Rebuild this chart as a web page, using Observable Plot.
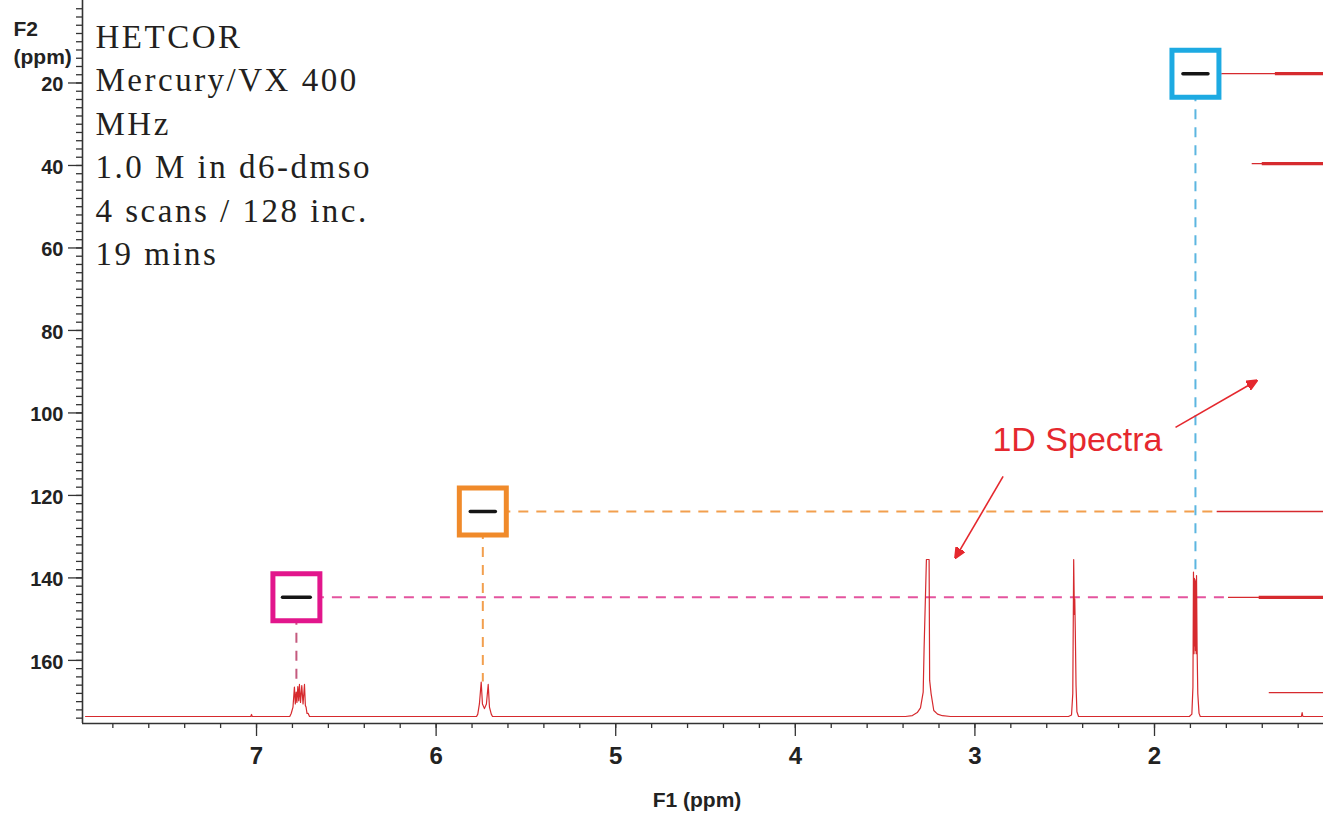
<!DOCTYPE html>
<html><head><meta charset="utf-8">
<script src="https://cdn.jsdelivr.net/npm/d3@7"></script>
<script src="https://cdn.jsdelivr.net/npm/@observablehq/plot@0.6"></script>
<style>
html,body{margin:0;padding:0;background:#fff;}
#chart svg{display:block}
</style></head><body><div id="chart"></div>
<script>
// ---------------- data ----------------
// 1H projection (F1 ppm, relative intensity 0-100)
const h1Ppm = [7.952, 7.032, 7.028, 7.024,
  6.815, 6.807, 6.797, 6.789, 6.784, 6.779, 6.775, 6.770, 6.765, 6.761, 6.755, 6.748, 6.741, 6.733, 6.728, 6.724, 6.719, 6.713, 6.705,
  5.775, 5.768, 5.759, 5.749, 5.742, 5.731, 5.720, 5.710, 5.703, 5.693, 5.686,
  3.387, 3.348, 3.321, 3.303, 3.288, 3.283, 3.270, 3.255, 3.252, 3.244, 3.229, 3.208, 3.181, 3.136,
  2.479, 2.462, 2.455, 2.450, 2.446, 2.444, 2.441, 2.437, 2.432, 2.423,
  1.806, 1.792, 1.786, 1.783, 1.780, 1.778, 1.776, 1.774, 1.772, 1.770, 1.768, 1.766, 1.763, 1.759, 1.752, 1.745,
  1.182, 1.178, 1.174, 1.06];
const h1Int = [0, 0, 1.3, 0,
  0, 1.9, 6, 18.7, 8, 15.5, 9, 19.1, 10, 20.4, 9, 19.7, 8, 20.4, 7, 5.9, 2, 2, 0,
  0, 1.5, 8, 21.9, 8, 5, 8, 20.4, 6, 1.5, 0,
  0, 0.6, 2.5, 5.5, 15.5, 43, 100, 100, 23, 14.6, 3.8, 1.5, 0.5, 0,
  0, 1, 14.6, 100, 65, 75, 55, 20, 3, 0,
  0, 1.5, 18.7, 92, 40, 88, 45, 86, 42, 87, 40, 89.8, 45, 14.6, 2, 0,
  0, 2.5, 0, 0];

// 13C projection (F2 ppm) – F1 position where each spike tip / thick body begins
const carbonShift = [17.75, 39.55, 123.9, 144.7, 167.8];
const carbonTip   = [1.625, 1.456, 1.651, 1.588, 1.361];
const carbonBody  = [1.327, 1.400, null, 1.417, null];

// HETCOR cross peaks
const crossH     = [6.778, 5.740, 1.772];   // 1H (F1 ppm)
const crossC     = [144.7, 123.9, 17.75];   // 13C (F2 ppm)
const crossTop   = [19, 22, 92];            // 1H peak intensity reached by guide
const crossWidth = [0.155, 0.14, 0.14];     // contour extent in F1

// ticks
const xMajor = [7, 6, 5, 4, 3, 2];
const xMinor = d3.range(12, 79, 2).map(v => v / 10);
const yMajor = [20, 40, 60, 80, 100, 120, 140, 160];
const yMinor = d3.range(2, 176, 2);

const infoLines = ["HETCOR", "Mercury/VX 400", "MHz", "1.0 M in d6-dmso", "4 scans / 128 inc.", "19 mins"];
const annotationLabel = "1D Spectra";

// ---------------- layout / style ----------------
const W = 1323, H = 813;
const xDomain = [7.969, 1.059];
const yDomain = [175.3, 0];
const base = 173.6, kInt = 0.3806;       // 1H intensity -> F2 axis units
const RED = "#d62a2e", ANN = "#e5282e", AX = "#333", TXT = "#222";
const boxColors = ["#e2168c", "#f08a2a", "#1daae2"];
const hColors   = ["#e4549e", "#f29f4e", "#5cb6e0"];
const vColors   = ["#c45a7e", "#f29f4e", "#5cb6e0"];

const spectrum = h1Ppm.map((p, i) => ({ppm: p, f2: base - h1Int[i] * kInt}));
const carbon = carbonShift.map((c, i) => ({c, tip: carbonTip[i], body: carbonBody[i]}));
const cross = crossH.map((h, i) => {
  const ci = d3.minIndex(carbonShift, s => Math.abs(s - crossC[i]));
  return {h, c: crossC[i], top: base - crossTop[i] * kInt, w: crossWidth[i], tip: carbonTip[ci],
          box: boxColors[i], hc: hColors[i], vc: vColors[i]};
});
const arrows = [
  {x1: 1.883, y1: 103.5, x2: 1.432, y2: 92.2},
  {x1: 2.843, y1: 115.4, x2: 3.108, y2: 135.1}
];
const labelPos = [{x: 2.429, y: 106.6, t: annotationLabel}];

function arrowHead(color) {
  const ns = "http://www.w3.org/2000/svg";
  const m = document.createElementNS(ns, "marker");
  m.setAttribute("viewBox", "0 -5 10 10");
  m.setAttribute("refX", "9");
  m.setAttribute("refY", "0");
  m.setAttribute("markerWidth", "11");
  m.setAttribute("markerHeight", "11");
  m.setAttribute("markerUnits", "userSpaceOnUse");
  m.setAttribute("orient", "auto");
  const p = document.createElementNS(ns, "path");
  p.setAttribute("d", "M0,-4.5L10,0L0,4.5Z");
  p.setAttribute("fill", color);
  m.appendChild(p);
  return m;
}

const chart = Plot.plot({
  width: W, height: H,
  marginLeft: 82, marginRight: 0, marginTop: 0, marginBottom: 90,
  x: {domain: xDomain},
  y: {domain: yDomain},
  color: {type: "identity"},
  style: {fontFamily: "Liberation Sans, Arial, sans-serif", background: "#fff", color: AX},
  marks: [
    // guides
    Plot.ruleY(cross, {y: "c", x1: "h", x2: "tip", stroke: "hc", strokeWidth: 2, strokeDasharray: "10,8"}),
    Plot.ruleX(cross, {x: "h", y1: "c", y2: "top", stroke: "vc", strokeWidth: 2, strokeDasharray: "10,8"}),
    // 1H projection
    Plot.line(spectrum, {x: "ppm", y: "f2", stroke: RED, strokeWidth: 1.2}),
    // 13C projection (rotated, coming from the right)
    Plot.ruleY(carbon, {y: "c", x1: "tip", x2: () => xDomain[1], stroke: RED, strokeWidth: 1.3}),
    Plot.ruleY(carbon.filter(d => d.body != null), {y: "c", x1: "body", x2: () => xDomain[1], stroke: RED, strokeWidth: 3.2}),
    // boxes around cross peaks
    Plot.dot(cross, {x: "h", y: "c", symbol: "square", r: 26.5, fill: "white", stroke: "box", strokeWidth: 5}),
    // cross peaks
    Plot.link(cross, {x1: d => d.h + d.w / 2, x2: d => d.h - d.w / 2, y1: "c", y2: "c", stroke: "#151515", strokeWidth: 3.4, strokeLinecap: "round"}),
    // annotation
    Plot.link(arrows, {x1: "x1", y1: "y1", x2: "x2", y2: "y2", stroke: ANN, strokeWidth: 1.6, markerEnd: arrowHead}),
    Plot.text(labelPos, {x: "x", y: "y", text: "t", fill: ANN, fontSize: 34, textAnchor: "middle", lineAnchor: "middle"}),
    // info block
    Plot.text([infoLines.join("\n")], {frameAnchor: "top-left", textAnchor: "start", lineAnchor: "top", dx: 13, dy: 16.2,
      fontSize: 33, lineHeight: 43.5 / 33, fontFamily: "Liberation Serif, serif", fill: "#231f20"}),
    // axes: ticks
    Plot.axisY({ticks: yMinor, tickSize: 6, tickFormat: () => "", label: null, stroke: AX, strokeWidth: 1.3}),
    Plot.axisY({ticks: yMajor, tickSize: 14, tickFormat: () => "", label: null, stroke: AX, strokeWidth: 1.3}),
    Plot.axisX({ticks: xMinor, tickSize: 5, tickFormat: () => "", label: null, stroke: AX, strokeWidth: 1.3}),
    Plot.axisX({ticks: xMajor, tickSize: 13, tickFormat: () => "", label: null, stroke: AX, strokeWidth: 1.3}),
    Plot.ruleX([xDomain[0]], {stroke: AX, strokeWidth: 1.6}),
    Plot.ruleY([yDomain[0]], {stroke: AX, strokeWidth: 1.6}),
    // axes: tick labels
    Plot.text(yMajor, {x: () => xDomain[0], y: d => d, text: d => String(d), dx: -19, dy: 2, textAnchor: "end", lineAnchor: "middle",
      fontSize: 20, fontWeight: "bold", fill: TXT}),
    Plot.text(xMajor, {x: d => d, y: () => yDomain[0], text: d => String(d), dy: 33, textAnchor: "middle", lineAnchor: "middle",
      fontSize: 24, fontWeight: "bold", fill: TXT}),
    // axis titles
    Plot.text(["F2"], {frameAnchor: "top-left", textAnchor: "start", lineAnchor: "middle", dx: -69, dy: 29, fontSize: 21, fontWeight: "bold", fill: TXT}),
    Plot.text(["(ppm)"], {frameAnchor: "top-left", textAnchor: "start", lineAnchor: "middle", dx: -69, dy: 57, fontSize: 21, fontWeight: "bold", fill: TXT}),
    Plot.text(["F1 (ppm)"], {frameAnchor: "bottom", textAnchor: "middle", lineAnchor: "middle", dx: -6, dy: 77, fontSize: 21, fontWeight: "bold", fill: TXT})
  ]
});
d3.select(chart).selectAll('g[font-family^="Liberation Serif"]').style("letter-spacing", "2.5px");
document.getElementById("chart").appendChild(chart);
</script>
</body></html>
